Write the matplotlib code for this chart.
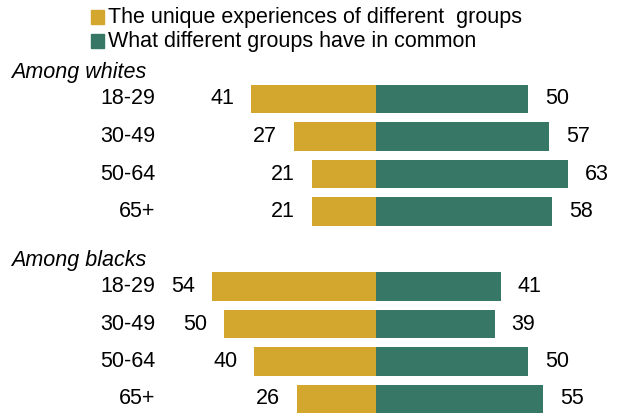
import matplotlib
matplotlib.use("Agg")
import matplotlib.pyplot as plt
from matplotlib import font_manager

# font: narrow sans if we have it
names = {f.name for f in font_manager.fontManager.ttflist}
fam = "Liberation Sans Narrow" if "Liberation Sans Narrow" in names else "Liberation Sans"
plt.rcParams['font.family'] = [fam, 'DejaVu Sans']

ages = ["18-29", "30-49", "50-64", "65+"]
groups = ["Among whites", "Among blacks"]
unique_whites = [41, 27, 21, 21]
common_whites = [50, 57, 63, 58]
unique_blacks = [54, 50, 40, 26]
common_blacks = [41, 39, 50, 55]
legend_labels = ["The unique experiences of different  groups",
                 "What different groups have in common"]

gold = "#D3A72E"
teal = "#377766"

fig = plt.figure(figsize=(6.2, 4.13), dpi=100)
ax = fig.add_axes([0, 0, 1, 1])
# pixel x = 376 + v*3.04 ; row spacing 37.5 px, first row at y=99
ax.set_xlim(-376 / 3.04, (620 - 376) / 3.04)
ax.set_ylim((413 - 99) / 37.5, -99 / 37.5)
ax.axis("off")

fs = 15.5
gap = 5.6
for g, (uvals, cvals, start) in enumerate([(unique_whites, common_whites, 0),
                                           (unique_blacks, common_blacks, 5)]):
    rows = [start + i for i in range(len(ages))]
    ax.barh(rows, [-u for u in uvals], height=0.75, color=gold, edgecolor="none")
    ax.barh(rows, cvals, height=0.75, color=teal, edgecolor="none")
    for r, a, u, c in zip(rows, ages, uvals, cvals):
        ax.text(-(376 - 155) / 3.04, r, a, ha="right", va="center", fontsize=fs)
        ax.text(-u - gap, r, str(u), ha="right", va="center", fontsize=fs)
        ax.text(c + gap, r, str(c), ha="left", va="center", fontsize=fs)
    ax.text(-(376 - 11) / 3.04, start - 0.7, groups[g], ha="left", va="center",
            fontsize=fs, style="italic")

# legend
for i, (lab, col) in enumerate(zip(legend_labels, [gold, teal])):
    y = 17 + i * 24
    fig.patches.append(plt.Rectangle((91 / 620, 1 - (y + 7) / 413), 13 / 620, 14 / 413,
                                     transform=fig.transFigure, color=col))
    fig.text(108 / 620, 1 - y / 413, lab, ha="left", va="center", fontsize=fs)

fig.savefig("out.png", dpi=100)
